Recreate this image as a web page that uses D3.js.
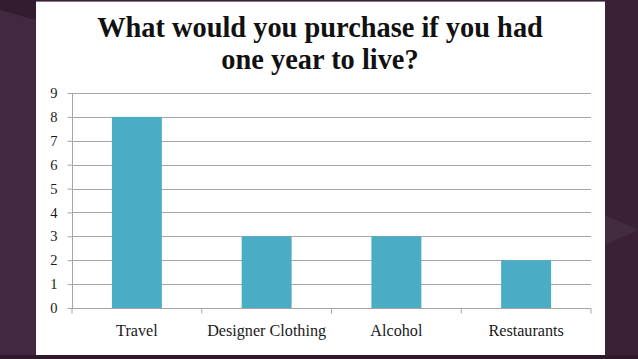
<!DOCTYPE html>
<html><head><meta charset="utf-8">
<script src="https://cdn.jsdelivr.net/npm/d3@7/dist/d3.min.js"></script>
<style>html,body{margin:0;padding:0;background:#3b2338;overflow:hidden}</style>
</head><body><svg id="c" width="638" height="359"></svg>
<script>
const categories = ["Travel", "Designer Clothing", "Alcohol", "Restaurants"];
const values = [8, 3, 3, 2];
const yTicks = [0,1,2,3,4,5,6,7,8,9];
const titleLines = ["What would you purchase if you had", "one year to live?"];

const svg = d3.select("#c");
const serif = "'Liberation Serif', 'DejaVu Serif', serif";

// background
svg.append("rect").attr("width",638).attr("height",359).attr("fill","#3a2136");
svg.append("polygon").attr("points","0,0 36,0 36,359 0,359").attr("fill","#42293f");
svg.append("polygon").attr("points","0,0 36,0 36,20 0,10").attr("fill","#331c30");
svg.append("polygon").attr("points","605,215 638,230 605,245").attr("fill","#4a3448").attr("opacity",0.6);
svg.append("rect").attr("x",0).attr("y",355).attr("width",638).attr("height",4).attr("fill","#2f1a2c");

// panel
svg.append("rect").attr("x",36).attr("y",1).attr("width",569).attr("height",354).attr("fill","#ffffff");
svg.append("line").attr("x1",36).attr("x2",605).attr("y1",1.5).attr("y2",1.5).attr("stroke","#8a7a88").attr("stroke-width",1);

const x0 = 72, x1 = 591, yTop = 93, yBot = 308;
const x = d3.scaleBand().domain(categories).range([x0, x1]).padding(0);
const y = d3.scaleLinear().domain([0, 9]).range([yBot, yTop]);

// gridlines
svg.append("g").selectAll("line").data(yTicks.filter(d=>d>0)).join("line")
  .attr("x1", x0).attr("x2", x1).attr("y1", d=>Math.round(y(d))+0.5).attr("y2", d=>Math.round(y(d))+0.5)
  .attr("stroke","#a6a6a6").attr("stroke-width",1);

// bars
const bw = x.bandwidth()*0.385;
svg.append("g").selectAll("rect").data(values).join("rect")
  .attr("x",(d,i)=>x(categories[i]) + x.bandwidth()/2 - bw/2)
  .attr("y",d=>y(d)).attr("width",bw).attr("height",d=>y(0)-y(d))
  .attr("fill","#4bacc6");

// y axis
const ya = svg.append("g").attr("transform",`translate(${x0+0.5},0)`)
  .call(d3.axisLeft(y).tickValues(yTicks).tickSize(5).tickPadding(10).tickFormat(d3.format("d")));
ya.select(".domain").attr("stroke","#a6a6a6").attr("d",`M0,${yTop}V${yBot}`);
ya.selectAll(".tick line").attr("stroke","#a6a6a6");
ya.selectAll("text").attr("font-family",serif).attr("font-size",14.5).attr("fill","#1a1a1a");

// x axis
const xa = svg.append("g").attr("transform",`translate(0,${yBot+0.5})`)
  .call(d3.axisBottom(x).tickSize(0).tickPadding(16));
xa.select(".domain").attr("stroke","#a6a6a6").attr("d",`M${x0},0H${x1}`);
const xt = xa.selectAll("text").attr("font-family",serif).attr("font-size",15).attr("fill","#1a1a1a");
const dw = xt.filter(d=>d==="Designer Clothing").node().getComputedTextLength();
xt.attr("font-size", 15*119/dw);
// category boundary ticks
xa.append("g").selectAll("line").data(d3.range(categories.length+1)).join("line")
  .attr("x1",i=>x0 + i*x.step()).attr("x2",i=>x0 + i*x.step()).attr("y1",0).attr("y2",5)
  .attr("stroke","#a6a6a6");

// title
const t = svg.append("text").attr("text-anchor","middle").attr("font-family",serif)
  .attr("font-weight","bold").attr("fill","#111");
t.selectAll("tspan").data(titleLines).join("tspan")
  .attr("x",320).attr("y",(d,i)=>37 + i*32).text(d=>d);
t.attr("font-size",24);
const w = t.select("tspan").node().getComputedTextLength();
t.attr("font-size", 24*446/w);
</script></body></html>
